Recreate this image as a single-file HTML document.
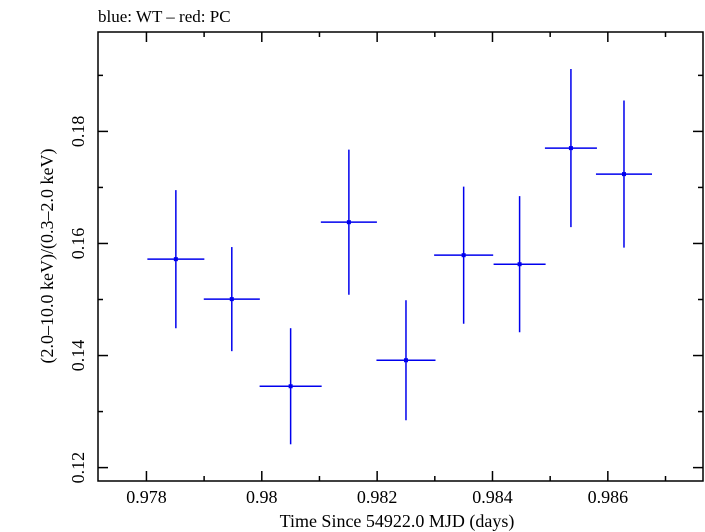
<!DOCTYPE html>
<html><head><meta charset="utf-8"><style>
html,body{margin:0;padding:0;background:#fff;}
svg{display:block;font-family:"Liberation Serif","Times New Roman",serif;}
</style></head><body>
<svg id="chart" width="705" height="532" viewBox="0 0 705 532">
<text x="98" y="22" font-size="17">blue: WT – red: PC</text>
<rect x="98" y="32" width="605" height="449" fill="none" stroke="#000" stroke-width="1.5"/>
<g id="ticks"></g>
<g id="marks"></g>
<text x="397" y="527" font-size="18" text-anchor="middle">Time Since 54922.0 MJD (days)</text>
<text transform="translate(53,256) rotate(-90)" font-size="18" text-anchor="middle">(2.0–10.0 keV)/(0.3–2.0 keV)</text>
</svg>
<script>
const timeValues = [0.97851, 0.97948, 0.98050, 0.98151, 0.98250, 0.98350, 0.98447, 0.98536, 0.98628];
const timeHalfWidth = [0.000494, 0.000486, 0.000538, 0.000486, 0.000512, 0.000512, 0.000451, 0.000451, 0.000486];
const ratioValues = [0.15720, 0.15007, 0.13452, 0.16380, 0.13916, 0.15791, 0.15630, 0.17702, 0.17238];
const ratioErrors = [0.01232, 0.00929, 0.01036, 0.01295, 0.01071, 0.01223, 0.01214, 0.01411, 0.01313];
const xTickValues = [0.978, 0.98, 0.982, 0.984, 0.986];
const xTickLabels = ["0.978", "0.98", "0.982", "0.984", "0.986"];
const yTickValues = [0.12, 0.14, 0.16, 0.18];
const yTickLabels = ["0.12", "0.14", "0.16", "0.18"];

const X0 = 98, X1 = 703, Y0 = 32, Y1 = 481;
const xMin = 0.97716, xMax = 0.98765, yMin = 0.11761, yMax = 0.19774;
function xs(v){ return X0 + (v - xMin) / (xMax - xMin) * (X1 - X0); }
function ys(v){ return Y1 - (v - yMin) / (yMax - yMin) * (Y1 - Y0); }
const NS = "http://www.w3.org/2000/svg";
function mk(tag, attrs, parent){ const e = document.createElementNS(NS, tag); for (const k in attrs) e.setAttribute(k, attrs[k]); parent.appendChild(e); return e; }
const tg = document.getElementById('ticks');
const svg = document.getElementById('chart');

// minor x ticks every 0.001
for (let i = 0; i <= 10; i++) {
  const v = 0.977 + i * 0.001;
  if (v < xMin || v > xMax) continue;
  const major = Math.abs((v * 1000) % 2) < 1e-6 || Math.abs((v * 1000) % 2 - 2) < 1e-6;
  const L = major ? 10 : 5, x = xs(v);
  const t1 = mk('line', {x1:x, x2:x, y1:Y1, y2:Y1-L, stroke:'#000', 'stroke-width':1.5}, tg);
  
  
  const t2 = mk('line', {x1:x, x2:x, y1:Y0, y2:Y0+L, stroke:'#000', 'stroke-width':1.5}, tg);
  
  
}
xTickValues.forEach((v, i) => {
  const t = mk('text', {x:xs(v), y:503, 'font-size':18, 'text-anchor':'middle'}, svg);
  t.textContent = xTickLabels[i];
  
  
});
// y ticks every 0.01
for (let i = 0; i <= 8; i++) {
  const v = 0.12 + i * 0.01;
  if (v > yMax) continue;
  const major = i % 2 === 0;
  const L = major ? 10 : 5, y = ys(v);
  const t1 = mk('line', {x1:X0, x2:X0+L, y1:y, y2:y, stroke:'#000', 'stroke-width':1.5}, tg);
  
  
  const t2 = mk('line', {x1:X1, x2:X1-L, y1:y, y2:y, stroke:'#000', 'stroke-width':1.5}, tg);
  
  
}
yTickValues.forEach((v, i) => {
  const t = mk('text', {transform:'translate(84,' + ys(v) + ') rotate(-90)', 'font-size':18, 'text-anchor':'middle'}, svg);
  t.textContent = yTickLabels[i];
  
  
});
const mg = document.getElementById('marks');
timeValues.forEach((t, i) => {
  const g = mk('g', {}, mg);
  
  
  const cx = xs(t), cy = ys(ratioValues[i]);
  mk('line', {x1:xs(t - timeHalfWidth[i]), x2:xs(t + timeHalfWidth[i]), y1:cy, y2:cy, stroke:'#0000ee', 'stroke-width':1.5}, g);
  mk('line', {x1:cx, x2:cx, y1:ys(ratioValues[i] - ratioErrors[i]), y2:ys(ratioValues[i] + ratioErrors[i]), stroke:'#0000ee', 'stroke-width':1.5}, g);
  mk('rect', {x:cx-2, y:cy-2, width:4, height:4, fill:'#0000ee'}, g);
});
</script>
</body></html>
